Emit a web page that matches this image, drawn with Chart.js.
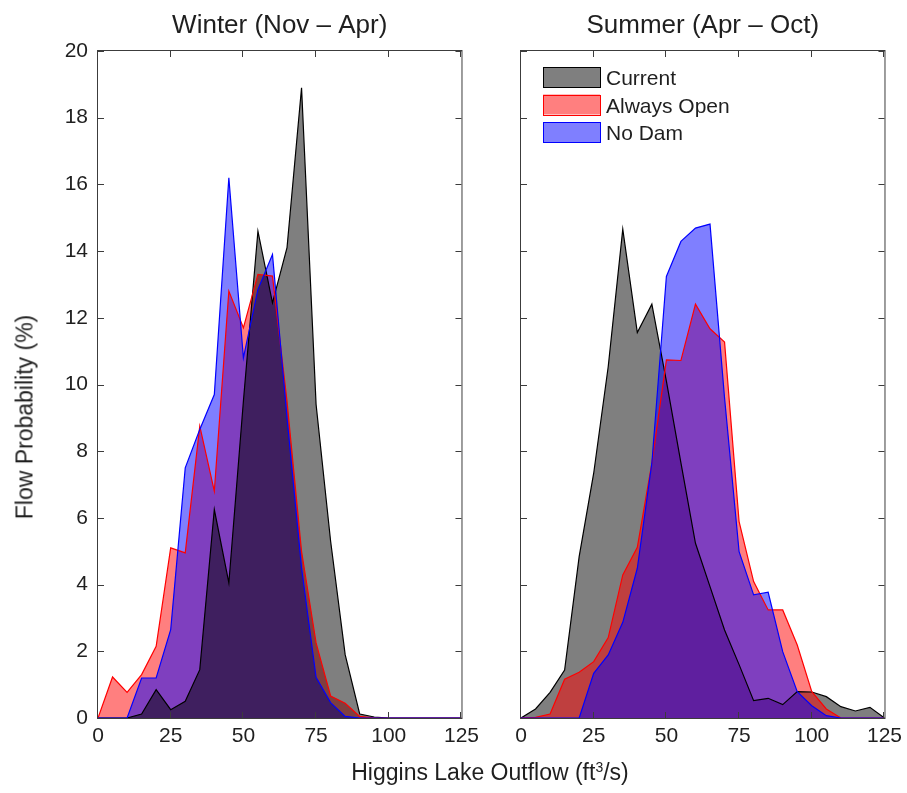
<!DOCTYPE html>
<html>
<head>
<meta charset="utf-8">
<title>Higgins Lake Outflow</title>
<script src="https://cdn.jsdelivr.net/npm/chart.js@4.4.0/dist/chart.umd.min.js"></script>
<style>
  html, body { margin: 0; padding: 0; background: #ffffff; }
  #fig { position: relative; width: 907px; height: 793px; overflow: hidden;
         font-family: "Liberation Sans", Arial, Helvetica, sans-serif; color: #1f1f1f; }
  #winterChart { position: absolute; left: 0; top: 0; }
  #summerChart { position: absolute; left: 480px; top: 0; }
  .axis-label { position: absolute; font-size: 23px; line-height: 23px; white-space: nowrap; }
  #xLabel { left: 490px; top: 761px; transform: translateX(-50%); }
  #xLabel sup { font-size: 14px; line-height: 0; vertical-align: 8px; }
  #yLabel { left: 25px; top: 417px; transform: translate(-50%, -50%) rotate(-90deg); }
</style>
</head>
<body>
<div id="fig">
  <canvas id="winterChart" width="485" height="793" style="width:485px;height:793px"></canvas>
  <canvas id="summerChart" width="428" height="793" style="width:428px;height:793px"></canvas>
  <div class="axis-label" id="xLabel">Higgins Lake Outflow (ft<sup>3</sup>/s)</div>
  <div class="axis-label" id="yLabel">Flow Probability (%)</div>
</div>
<script>
// Outflow bins (ft3/s)
const flowBins = [0, 5, 10, 15, 20, 25, 30, 35, 40, 45, 50, 55, 60, 65, 70, 75, 80, 85, 90, 95, 100, 105, 110, 115, 120, 125];

// Winter (Nov - Apr) flow probability, %
const winterCurrent = [0, 0, 0, 0.12, 0.85, 0.25, 0.5, 1.45, 6.25, 4.05, 9.5, 14.6, 12.45, 14.1, 18.9, 9.4, 5.3, 1.9, 0.12, 0.03, 0, 0, 0, 0, 0, 0];
const winterAlwaysOpen = [0, 1.23, 0.77, 1.3, 2.15, 5.1, 4.95, 8.75, 6.8, 12.8, 11.7, 13.3, 13.25, 9.5, 5.0, 2.25, 0.66, 0.44, 0.05, 0, 0, 0, 0, 0, 0, 0];
const winterNoDam = [0, 0, 0, 1.2, 1.2, 2.65, 7.5, 8.65, 9.7, 16.2, 10.8, 12.85, 13.9, 9.0, 4.5, 1.22, 0.46, 0.05, 0, 0, 0, 0, 0, 0, 0, 0];

// Summer (Apr - Oct) flow probability, %
const summerCurrent = [0, 0.27, 0.77, 1.44, 4.84, 7.34, 10.54, 14.66, 11.56, 12.41, 10.1, 7.65, 5.24, 3.94, 2.64, 1.6, 0.52, 0.59, 0.4, 0.79, 0.78, 0.64, 0.34, 0.21, 0.32, 0];
const summerAlwaysOpen = [0, 0.02, 0.12, 1.16, 1.37, 1.69, 2.41, 4.29, 5.12, 7.64, 10.74, 10.72, 12.41, 11.67, 11.27, 5.89, 4.09, 3.24, 3.24, 2.19, 0.79, 0.27, 0, 0, 0, 0];
const summerNoDam = [0, 0, 0, 0, 0, 1.34, 1.89, 2.87, 4.49, 7.64, 13.24, 14.29, 14.69, 14.81, 9.6, 4.99, 3.69, 3.77, 1.99, 0.79, 0.37, 0.07, 0, 0, 0, 0];

const seriesNames = ['Current', 'Always Open', 'No Dam'];
const xTicks = [0, 25, 50, 75, 100, 125];
const yTicks = [0, 2, 4, 6, 8, 10, 12, 14, 16, 18, 20];

const edgeColors = ['#000000', '#ff0000', '#0000ff'];
const faceColors = ['rgba(0,0,0,0.5)', 'rgba(255,0,0,0.5)', 'rgba(0,0,255,0.5)'];
const FONT = '"Liberation Sans", Arial, Helvetica, sans-serif';
const TEXT = '#1f1f1f';

Chart.defaults.font.family = FONT;
Chart.defaults.color = TEXT;

function toPoints(values) {
  return flowBins.map((x, i) => ({ x: x, y: values[i] }));
}

// Filled areas are stacked in the given order (first = bottom layer);
// the outlines are always drawn above all fills, No Dam on top.
function buildDatasets(series, fillStack) {
  const sets = [];
  fillStack.forEach((s, k) => {
    sets.push({
      label: seriesNames[s], data: toPoints(series[s]),
      fill: 'origin', backgroundColor: faceColors[s],
      borderColor: 'rgba(0,0,0,0)', borderWidth: 0,
      pointRadius: 0, pointHoverRadius: 0, order: 10 - k
    });
  });
  [0, 1, 2].forEach(s => {
    sets.push({
      label: seriesNames[s] + ' outline', data: toPoints(series[s]),
      fill: false, borderColor: edgeColors[s], borderWidth: 1.2,
      borderJoinStyle: 'miter', pointRadius: 0, pointHoverRadius: 0, order: 3 - s
    });
  });
  return sets;
}

// Box around the plot area with inward ticks on all four sides
const boxPlugin = {
  id: 'boxFrame',
  beforeDatasetsDraw(chart) {
    const { ctx, chartArea: a } = chart;
    ctx.save();
    ctx.strokeStyle = '#3c3c3c';
    ctx.lineWidth = 1;
    ctx.strokeRect(a.left - 0.5, a.top - 0.5, a.right - a.left + 1, a.bottom - a.top + 1);
    ctx.restore();
  },
  afterDatasetsDraw(chart) {
    const { ctx, chartArea: a } = chart;
    const len = 6;
    ctx.save();
    ctx.strokeStyle = '#3c3c3c';
    ctx.lineWidth = 1;
    ctx.beginPath();
    xTicks.forEach(v => {
      const px = Math.round(chart.scales.x.getPixelForValue(v)) - 0.5;
      ctx.moveTo(px, a.bottom); ctx.lineTo(px, a.bottom - len);
      ctx.moveTo(px, a.top); ctx.lineTo(px, a.top + len);
    });
    yTicks.forEach(v => {
      const py = Math.round(chart.scales.y.getPixelForValue(v)) + 0.5;
      ctx.moveTo(a.left, py); ctx.lineTo(a.left + len, py);
      ctx.moveTo(a.right, py); ctx.lineTo(a.right - len, py);
    });
    ctx.stroke();
    ctx.restore();
  }
};

// Panel heading centred over the plot area
const headingPlugin = {
  id: 'panelHeading',
  afterDraw(chart, args, opts) {
    const { ctx, chartArea: a } = chart;
    ctx.save();
    ctx.font = '26px ' + FONT;
    ctx.fillStyle = TEXT;
    ctx.textAlign = 'center';
    ctx.textBaseline = 'alphabetic';
    ctx.fillText(opts.text, (a.left + a.right) / 2, 33);
    ctx.restore();
  }
};

// Legend box with swatches, placed inside the upper-left of the plot
const swatchLegendPlugin = {
  id: 'swatchLegend',
  afterDraw(chart, args, opts) {
    if (!opts.show) return;
    const { ctx, chartArea: a } = chart;
    const x0 = a.left + 22, w = 57, h = 20, pitch = 27.5, top = 67;
    ctx.save();
    ctx.font = '21px ' + FONT;
    ctx.textBaseline = 'alphabetic';
    seriesNames.forEach((name, i) => {
      const y = top + i * pitch;
      ctx.fillStyle = faceColors[i];
      ctx.fillRect(x0, y, w, h);
      ctx.strokeStyle = edgeColors[i];
      ctx.lineWidth = 1;
      ctx.strokeRect(Math.round(x0) + 0.5, Math.round(y) + 0.5, w, h);
      ctx.fillStyle = TEXT;
      ctx.fillText(name, x0 + w + 6, y + 18);
    });
    ctx.restore();
  }
};

function makeChart(canvasId, series, fillStack, opts) {
  return new Chart(document.getElementById(canvasId), {
    type: 'line',
    data: { datasets: buildDatasets(series, fillStack) },
    plugins: [boxPlugin, headingPlugin, swatchLegendPlugin],
    options: {
      responsive: false,
      animation: false,
      events: [],
      layout: { padding: { top: 51, right: 0, left: 0, bottom: 0 } },
      scales: {
        x: {
          type: 'linear', min: 0, max: 125,
          grid: { display: false, drawTicks: false },
          border: { display: false },
          ticks: { stepSize: 25, padding: 6, font: { size: 21 }, color: TEXT, maxRotation: 0 },
          afterFit: s => { s.height = 75; }
        },
        y: {
          type: 'linear', min: 0, max: 20,
          grid: { display: false, drawTicks: false },
          border: { display: false },
          ticks: { stepSize: 2, padding: 10, font: { size: 21 }, color: TEXT, display: opts.yLabels },
          afterFit: s => { s.width = opts.yWidth; }
        }
      },
      plugins: {
        legend: { display: false },
        tooltip: { enabled: false },
        panelHeading: { text: opts.title },
        swatchLegend: { show: opts.legend }
      }
    }
  });
}

// Winter: Always Open at the bottom, then No Dam, Current on top
makeChart('winterChart', [winterCurrent, winterAlwaysOpen, winterNoDam], [1, 2, 0],
  { title: 'Winter (Nov \u2013 Apr)', yWidth: 98, yLabels: true, legend: false });

// Summer: Current at the bottom, then Always Open, No Dam on top
makeChart('summerChart', [summerCurrent, summerAlwaysOpen, summerNoDam], [0, 1, 2],
  { title: 'Summer (Apr \u2013 Oct)', yWidth: 41, yLabels: false, legend: true });
</script>
</body>
</html>
